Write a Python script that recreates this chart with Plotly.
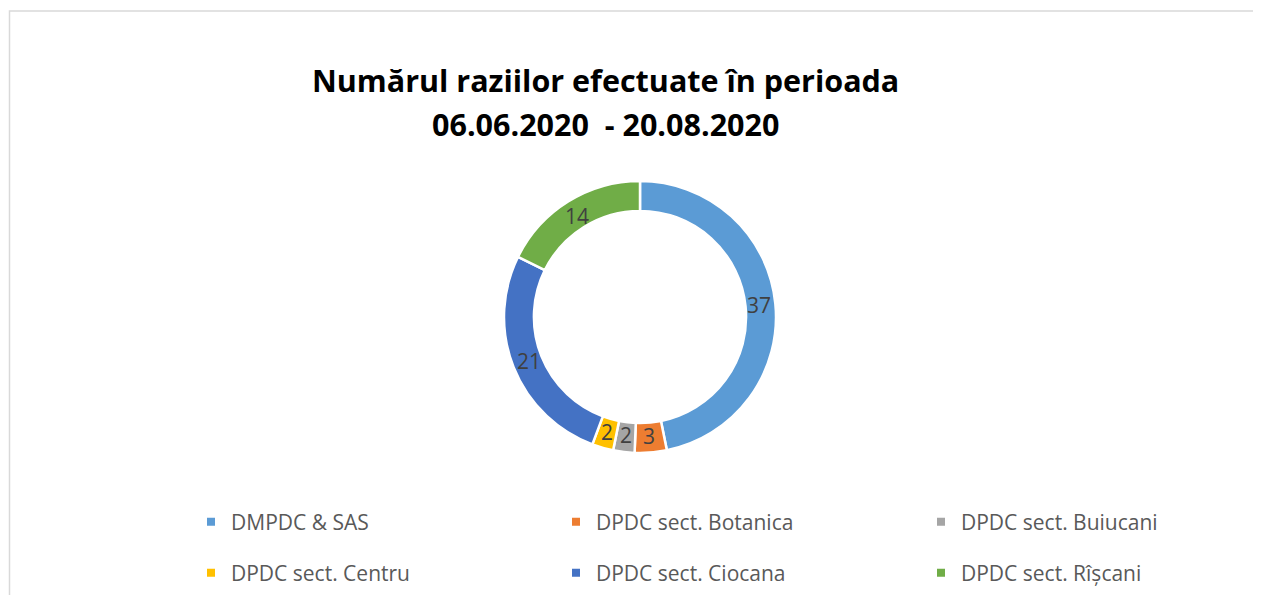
import numpy as np
import plotly.graph_objects as go

# --- data -------------------------------------------------------------------
labels = ["DMPDC & SAS", "DPDC sect. Botanica", "DPDC sect. Buiucani",
          "DPDC sect. Centru", "DPDC sect. Ciocana", "DPDC sect. Rîșcani"]
values = [37, 3, 2, 2, 21, 14]
colors = ["#5B9BD5", "#ED7D31", "#A5A5A5", "#FFC000", "#4472C4", "#70AD47"]
title_lines = ["Numărul raziilor efectuate în perioada", "06.06.2020  - 20.08.2020"]

# the page body keeps its 8px margin, so the figure is sized to fit inside it
OFF = 8
W, H = 1261 - 2 * OFF, 603 - 2 * OFF


def px(x):
    return (x - OFF) / W


def py(y):
    return 1 - (y - OFF) / H


# ring geometry (reference pixels)
CX, CY, R, HOLE = 640, 317, 136, 0.78

fig = go.Figure()
fig.add_trace(go.Pie(
    labels=labels, values=values, sort=False, direction="clockwise", rotation=0,
    hole=HOLE, marker=dict(colors=colors, line=dict(color="white", width=2.5)),
    textinfo="none", domain=dict(x=[px(CX - R), px(CX + R)], y=[py(CY + R), py(CY - R)]),
    showlegend=False, hoverinfo="label+value",
))

# value labels at the middle of each ring sector (Excel-style placement)
v = np.array(values, dtype=float)
mid = (np.cumsum(v) - v / 2) / v.sum() * 2 * np.pi   # clockwise from 12 o'clock
r_mid = (R - 2) * (1 + HOLE) / 2
for val, a in zip(values, mid):
    fig.add_annotation(text=str(val), xref="paper", yref="paper",
                       x=px(CX + r_mid * np.sin(a)), y=py(CY - r_mid * np.cos(a)),
                       xanchor="center", yanchor="middle", showarrow=False,
                       font=dict(family="Open Sans", size=21, color="#404040"))

# legend: one small legend per entry, laid out as 2 rows x 3 columns
col_x = [191, 556, 921]
row_y = [522, 573]
for i, (lab, col) in enumerate(zip(labels, colors)):
    name = "legend" if i == 0 else f"legend{i + 1}"
    fig.add_trace(go.Scatter(
        x=[None], y=[None], mode="markers", name=lab,
        marker=dict(symbol="square", size=8, color=col),
        legend=name, hoverinfo="skip",
    ))
    fig.update_layout({name: dict(
        orientation="h", xanchor="left", yanchor="middle",
        x=px(col_x[i % 3]), y=py(row_y[i // 3]), bgcolor="rgba(0,0,0,0)",
        font=dict(family="Open Sans", size=21, color="#595959"))})

fig.update_layout(
    width=W, height=H, margin=dict(l=0, r=0, t=0, b=0),
    paper_bgcolor="white", plot_bgcolor="white",
    xaxis=dict(visible=False), yaxis=dict(visible=False),
    shapes=[dict(type="rect", xref="paper", yref="paper",
                 x0=px(9.5), x1=1.05, y0=-0.05, y1=py(11),
                 line=dict(color="#D9D9D9", width=1.5))],
)

for line, ybase in zip(title_lines, [94, 138]):
    fig.add_annotation(text=f"<b>{line}</b>", xref="paper", yref="paper",
                       x=px(605), y=py(ybase + 9), xanchor="center", yanchor="bottom",
                       showarrow=False, font=dict(family="Open Sans", size=30.5, color="black"))

fig.write_html("out.html")
